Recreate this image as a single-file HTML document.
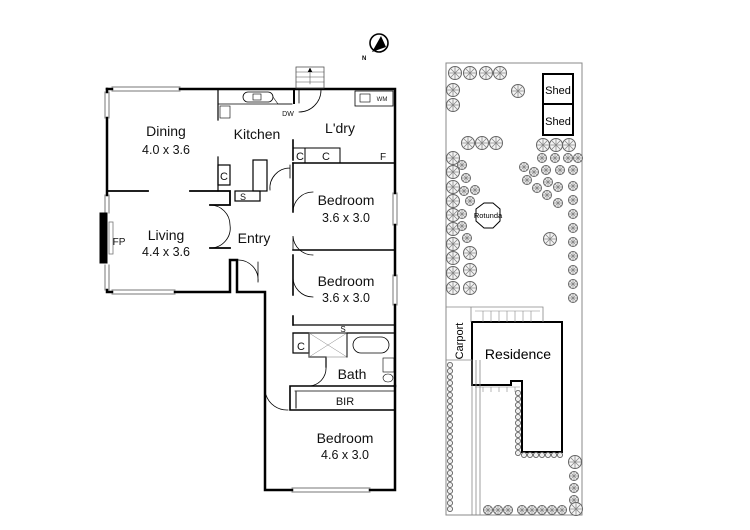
<!DOCTYPE html>
<html><head><meta charset="utf-8"><style>
html,body{margin:0;padding:0;background:#fff;}
svg{display:block;font-family:"Liberation Sans",Arial,sans-serif;}
</style></head><body>
<svg width="750" height="530" viewBox="0 0 750 530" xmlns="http://www.w3.org/2000/svg">
<defs>
<g id="t"><circle r="6.5" fill="#f4f4f4" stroke="#666" stroke-width="1"/><path d="M-6 0H6M0-6V6M-4-4L4 4M-4 4L4-4" stroke="#888" stroke-width="0.8"/></g>
<g id="ts"><circle r="4.5" fill="#f4f4f4" stroke="#666" stroke-width="1"/><path d="M-4 0H4M0-4V4M-3-3L3 3M-3 3L3-3" stroke="#888" stroke-width="0.7"/></g>
<g id="tx"><circle r="2.6" fill="#eee" stroke="#555" stroke-width="0.8"/></g>
</defs>
<g stroke="#000" fill="none" stroke-linecap="square">
<!-- outer walls -->
<path d="M180 89H395V193M395 225V275M395 305V386" stroke-width="2.5"/>
<path d="M107 89V92M107 118V195M107 290V292H112M175 292H230V260H237V292M237 292H265V490H292M370 490H395V386" stroke-width="2.5"/>
<path d="M107 89H112" stroke-width="2.5"/>
<!-- windows -->
<g stroke="#777" stroke-width="1">
<path d="M112 87H180M112 91H180"/>
<path d="M105 92V118M109 92V118"/>
<path d="M105 195V213M109 195V213M105 265V290M109 265V290"/>
<path d="M112 290H175M112 294H175"/>
<path d="M393 193V225M397 193V225M393 275V305M397 275V305"/>
<path d="M292 488H370M292 492H370"/>
</g>
<rect x="100" y="213" width="7" height="50" fill="#000"/>
<rect x="109" y="222" width="4" height="32" stroke="#777" stroke-width="0.8"/>
<path d="M108 191H148M190 191H230V205H210M210 248H230" stroke-width="1.8"/>
<path d="M218 89V120M218 157V191" stroke-width="1.2"/>
<rect x="218" y="165" width="12" height="20" stroke-width="1.2"/>
<rect x="235" y="191" width="25" height="10" stroke-width="1.2"/>
<rect x="253" y="160" width="14" height="31" stroke-width="1.2"/>
<path d="M218 104H292" stroke-width="0.8"/>
<rect x="220" y="106" width="10" height="12" stroke-width="0.6"/>
<rect x="243" y="92" width="30" height="10" rx="5" stroke-width="0.8"/>
<rect x="253" y="94" width="8" height="6" stroke-width="0.6"/>
<path d="M273 97 L278 104 H292" stroke-width="0.6"/>
<path d="M294 89V103" stroke-width="2"/>
<path d="M299 89V103 M299 112 A 22 22 0 0 0 321 90" stroke-width="0.8"/>
<rect x="355" y="91" width="38" height="15" stroke-width="0.8"/>
<rect x="360" y="94" width="10" height="8" stroke-width="0.6"/>
<path d="M293 140V160M293 163H395" stroke-width="1.6"/>
<path d="M293 148H340V163M305 148V163" stroke-width="1"/>
<rect x="296" y="67" width="28" height="21" stroke-width="0.8" stroke="#555"/>
<path d="M296 72H324M296 77H324M296 82H324M310 84V70" stroke-width="0.6" stroke="#555"/>
<path d="M308 72L310 68L312 72" fill="#000" stroke-width="0.5"/>
<path d="M293 163V212M293 255V295M293 316V325" stroke-width="1.6"/>
<path d="M293 212 A 20 20 0 0 1 313 192 M293 276 A 20 20 0 0 0 313 297 M293 250V236 A 20 20 0 0 0 313 255" stroke-width="0.8"/>
<path d="M293 250H395" stroke-width="1.6"/>
<path d="M290 165V178 M290 168 A 20 20 0 0 0 270 190" stroke-width="0.8"/>
<path d="M210 205 A 20 20 0 0 1 230 225 A 20 20 0 0 1 210 248" stroke-width="0.8"/>
<path d="M237 260 A 20 20 0 0 1 258 282 M258 262V282" stroke-width="0.8"/>
<path d="M293 325H395M293 333H395" stroke-width="1.2"/>
<rect x="293" y="333" width="16" height="20" stroke-width="1.2"/>
<path d="M309 333V357H326V367M309 357" stroke-width="1.2"/>
<rect x="309" y="333" width="38" height="24" stroke-width="0.6" stroke="#888"/>
<path d="M309 333L347 357M347 333L309 357" stroke-width="0.5" stroke="#888"/>
<path d="M347 333V357" stroke-width="1"/>
<rect x="353" y="337" width="36" height="16" rx="8" stroke-width="0.8"/>
<rect x="383" y="358" width="11" height="14" stroke-width="0.6"/>
<ellipse cx="388" cy="378" rx="5" ry="4" stroke-width="0.6"/>
<path d="M326 367 A 18 18 0 0 1 310 386" stroke-width="0.8"/>
<path d="M290 386H395M290 386V410H395" stroke-width="1.6"/>
<path d="M295 391H395" stroke-width="0.8"/>
<path d="M296 392V408" stroke-width="1"/>
<path d="M266 395 A 22 22 0 0 0 288 410" stroke-width="0.8"/>
</g>
<g font-size="14" text-anchor="middle" fill="#111">
<text x="166" y="136">Dining</text>
<text x="166" y="154" font-size="12.5">4.0 x 3.6</text>
<text x="257" y="139">Kitchen</text>
<text x="340" y="133">L'dry</text>
<text x="346" y="205">Bedroom</text>
<text x="346" y="222" font-size="12.5">3.6 x 3.0</text>
<text x="346" y="286">Bedroom</text>
<text x="346" y="302" font-size="12.5">3.6 x 3.0</text>
<text x="166" y="240">Living</text>
<text x="166" y="256" font-size="12.5">4.4 x 3.6</text>
<text x="254" y="243">Entry</text>
<text x="352" y="379">Bath</text>
<text x="345" y="443">Bedroom</text>
<text x="345" y="459" font-size="12.5">4.6 x 3.0</text>
<text x="119" y="245" font-size="10">FP</text>
<text x="224" y="180" font-size="11">C</text>
<text x="300" y="160" font-size="11">C</text>
<text x="326" y="160" font-size="11">C</text>
<text x="383" y="160" font-size="10">F</text>
<text x="243" y="200" font-size="9">S</text>
<text x="343" y="332" font-size="8">S</text>
<text x="301" y="350" font-size="11">C</text>
<text x="345" y="405" font-size="11">BIR</text>
<text x="288" y="116" font-size="7">DW</text>
<text x="382" y="101" font-size="6">WM</text>
</g>
<circle cx="379" cy="43" r="9" fill="none" stroke="#000" stroke-width="1.6"/>
<path d="M372 52L381 36L386 47Z" fill="#000"/>
<text x="362" y="60" font-size="6" font-weight="bold">N</text>
<g stroke="#000" fill="none">
<rect x="446" y="63" width="136" height="452" stroke="#888" stroke-width="1"/>
<rect x="543" y="74" width="30" height="30" stroke-width="2"/>
<rect x="543" y="104" width="30" height="31" stroke-width="2"/>
<path d="M472 322H562V452H522V381H511V385H472Z" stroke-width="2"/>
<path d="M446 307H543V322M471 307V322M446 360H472V515M476 360V515M480 360V515" stroke="#888" stroke-width="0.8"/>
<path d="M475 311H540M483 311V322M491 311V322M499 311V322M507 311V322M515 311V322M523 311V322M531 311V322" stroke="#888" stroke-width="0.6"/>
<path d="M475 387H520M483 387V392M491 387V392M499 387V392M507 387V392M515 387V392" stroke="#888" stroke-width="0.6"/>
<path d="M476 209L484 203H493L500 209V221L493 228H484L476 221Z" stroke-width="1" fill="#fff"/>
</g>
<g font-size="11" text-anchor="middle">
<text x="558" y="94">Shed</text>
<text x="558" y="125">Shed</text>
<text x="518" y="359" font-size="14">Residence</text>
<text x="488" y="218" font-size="7.5">Rotunda</text>
<text transform="translate(463 341) rotate(-90)" font-size="11">Carport</text>
</g>
<g>
<use href="#t" x="455" y="73"/><use href="#t" x="470" y="73"/><use href="#t" x="486" y="73"/><use href="#t" x="500" y="73"/>
<use href="#t" x="453" y="90"/><use href="#t" x="453" y="105"/><use href="#t" x="518" y="91"/>
<use href="#t" x="468" y="143"/><use href="#t" x="482" y="143"/><use href="#t" x="496" y="143"/>
<use href="#t" x="543" y="145"/><use href="#t" x="556" y="145"/><use href="#t" x="569" y="145"/>
<use href="#t" x="453" y="158"/><use href="#t" x="453" y="172"/><use href="#t" x="453" y="187"/><use href="#t" x="453" y="201"/><use href="#t" x="453" y="215"/><use href="#t" x="453" y="229"/><use href="#t" x="453" y="244"/><use href="#t" x="453" y="258"/><use href="#t" x="453" y="273"/><use href="#t" x="453" y="288"/>
<use href="#t" x="470" y="253"/><use href="#t" x="470" y="270"/><use href="#t" x="470" y="288"/>
<use href="#t" x="550" y="239"/>
<use href="#ts" x="462" y="165"/><use href="#ts" x="466" y="178"/><use href="#ts" x="464" y="191"/><use href="#ts" x="475" y="190"/><use href="#ts" x="470" y="201"/><use href="#ts" x="462" y="214"/><use href="#ts" x="462" y="226"/><use href="#ts" x="467" y="238"/>
<use href="#ts" x="542" y="158"/><use href="#ts" x="555" y="158"/><use href="#ts" x="568" y="158"/><use href="#ts" x="578" y="158"/>
<use href="#ts" x="524" y="167"/><use href="#ts" x="534" y="172"/><use href="#ts" x="546" y="170"/><use href="#ts" x="560" y="170"/><use href="#ts" x="573" y="170"/>
<use href="#ts" x="527" y="180"/><use href="#ts" x="548" y="182"/><use href="#ts" x="558" y="187"/><use href="#ts" x="573" y="186"/>
<use href="#ts" x="537" y="188"/><use href="#ts" x="547" y="195"/><use href="#ts" x="558" y="203"/>
<use href="#ts" x="573" y="200"/><use href="#ts" x="573" y="214"/><use href="#ts" x="573" y="228"/><use href="#ts" x="573" y="242"/><use href="#ts" x="573" y="256"/><use href="#ts" x="573" y="270"/><use href="#ts" x="573" y="284"/><use href="#ts" x="573" y="298"/>
<use href="#t" x="575" y="462"/><use href="#ts" x="574" y="476"/><use href="#ts" x="574" y="488"/><use href="#ts" x="574" y="500"/><use href="#t" x="576" y="509"/>
<use href="#ts" x="488" y="510"/><use href="#ts" x="498" y="510"/><use href="#ts" x="508" y="510"/>
<use href="#ts" x="522" y="510"/><use href="#ts" x="532" y="510"/><use href="#ts" x="542" y="510"/><use href="#ts" x="552" y="510"/><use href="#ts" x="562" y="510"/>
</g>
<g>
<use href="#tx" x="450" y="365"/><use href="#tx" x="450" y="371"/><use href="#tx" x="450" y="377"/><use href="#tx" x="450" y="383"/><use href="#tx" x="450" y="389"/><use href="#tx" x="450" y="395"/><use href="#tx" x="450" y="401"/><use href="#tx" x="450" y="407"/><use href="#tx" x="450" y="413"/><use href="#tx" x="450" y="419"/><use href="#tx" x="450" y="425"/><use href="#tx" x="450" y="431"/><use href="#tx" x="450" y="437"/><use href="#tx" x="450" y="443"/><use href="#tx" x="450" y="449"/><use href="#tx" x="450" y="455"/><use href="#tx" x="450" y="461"/><use href="#tx" x="450" y="467"/><use href="#tx" x="450" y="473"/><use href="#tx" x="450" y="479"/><use href="#tx" x="450" y="485"/><use href="#tx" x="450" y="491"/><use href="#tx" x="450" y="497"/><use href="#tx" x="450" y="503"/><use href="#tx" x="450" y="509"/>
<use href="#tx" x="518" y="393"/><use href="#tx" x="518" y="399"/><use href="#tx" x="518" y="405"/><use href="#tx" x="518" y="411"/><use href="#tx" x="518" y="417"/><use href="#tx" x="518" y="423"/><use href="#tx" x="518" y="429"/><use href="#tx" x="518" y="435"/><use href="#tx" x="518" y="441"/><use href="#tx" x="518" y="447"/><use href="#tx" x="518" y="453"/>
<use href="#tx" x="524" y="455"/><use href="#tx" x="530" y="455"/><use href="#tx" x="536" y="455"/><use href="#tx" x="542" y="455"/><use href="#tx" x="548" y="455"/><use href="#tx" x="554" y="455"/><use href="#tx" x="560" y="455"/>
</g>
</svg>
</body></html>
